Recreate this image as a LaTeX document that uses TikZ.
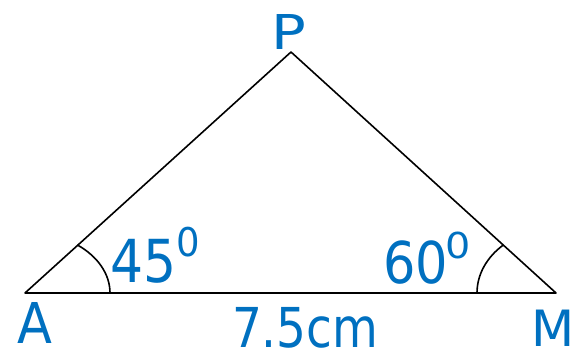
\documentclass[tikz,border=0pt]{standalone}
\usepackage{fontspec}
\setmainfont{DejaVu Sans}
\definecolor{lblue}{HTML}{0070C0}
\tikzset{
  lbl/.style={inner sep=0pt, outer sep=0pt, anchor=base west, text=lblue},
  edge/.style={line width=1.6pt, black, line join=round},
  ang/.style={line width=1.6pt, black}
}
\newcommand{\lb}[4]{\fontsize{#1}{#1}\selectfont\scalebox{#2}[#3]{#4}}
\begin{document}
\begin{tikzpicture}[x=1pt,y=1pt]
\useasboundingbox (0,0) rectangle (575,353);
\coordinate (A) at (25,60);
\coordinate (M) at (556,60);
\coordinate (P) at (291,301);
\draw[edge] (A) -- (M) -- (P) -- cycle;
\draw[ang] ([xshift=85pt]A) arc[start angle=0, end angle=52, x radius=85pt, y radius=61pt];
\draw[ang] ([xshift=-79pt]M) arc[start angle=180, end angle=131.8, x radius=79pt, y radius=64.4pt];
\node[lbl] (lP) at (271,303) {\lb{48}{1.2}{1.0}{P}};
\node[lbl] (lA) at (17.3,9.7) {\lb{50}{1.02}{1.125}{A}};
\node[lbl] (lM) at (531.8,6.7) {\lb{50}{1.0}{1.0}{M}};
\node[lbl] (len) at (232.1,5) {\lb{47}{1.0}{1.17}{7.5cm}};
\node[lbl] (a45) at (110.8,70) {\lb{52}{1.0}{1.14}{45}};
\node[lbl] (s45) at (176.3,96.8) {\lb{37}{1.0}{1.07}{0}};
\node[lbl] (a60) at (383.1,69.6) {\lb{51}{1.0}{1.13}{60}};
\node[lbl] (s60) at (445.7,94.2) {\lb{39.7}{1.0}{0.9}{0}};
\end{tikzpicture}
\end{document}
